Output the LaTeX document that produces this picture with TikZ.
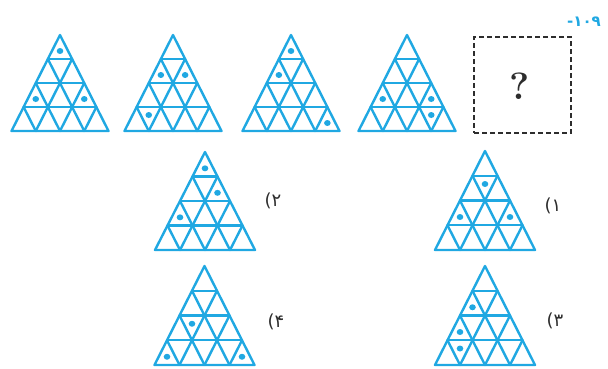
\documentclass[tikz,border=0pt]{standalone}
\usepackage{fontspec}
\newfontfamily\digitfont{DejaVu Sans}
\definecolor{triblue}{RGB}{32,168,226}
\definecolor{labgray}{RGB}{45,45,45}
\tikzset{
  tline/.style={draw=triblue, line width=2.4pt, line join=round, line cap=round},
  tdot/.style={fill=triblue},
  qbox/.style={draw=labgray, line width=1.1pt, dash pattern=on 5pt off 3pt},
  optlabel/.style={text=labgray, font=\digitfont\fontsize{18}{19}\selectfont, inner sep=0pt},
}
\newcommand\drawtri[5]{%
  \begin{scope}[shift={(#1,#2)}]
    \draw[tline] (0,0) -- (-#3/2,#4) -- (#3/2,#4) -- cycle;
    \foreach \k in {1,2,3}{
      \draw[tline] (-\k*#3/8,\k*#4/4) -- (\k*#3/8,\k*#4/4);
      \draw[tline] (-\k*#3/8,\k*#4/4) -- ({(4-2*\k)*#3/8},#4);
      \draw[tline] (\k*#3/8,\k*#4/4) -- ({-(4-2*\k)*#3/8},#4);
    }
    \foreach \r/\p in {#5}{
      \pgfmathsetmacro\dx{(\p-\r)*#3/8}
      \pgfmathsetmacro\dy{(\r-1)*#4/4 + ifthenelse(isodd(\p),2/3,1/3)*#4/4}
      \fill[tdot] (\dx,\dy) ellipse [x radius=3.3pt, y radius=3pt];
    }
  \end{scope}}
\begin{document}
\begin{tikzpicture}[x=1pt,y=-1pt]
\useasboundingbox (0,0) rectangle (608,368);
% top row
\drawtri{60}{35}{97}{96}{1/1,3/1,3/5}
\drawtri{173}{35}{97}{96}{2/1,2/3,4/2}
\drawtri{291}{35}{97}{96}{1/1,2/1,4/7}
\drawtri{407}{35}{97}{96}{3/1,3/5,4/6}
\node[qbox, minimum width=97pt, minimum height=96pt, inner sep=0pt] (qb) at (522.5,85) {};
\node[text=labgray, font=\fontsize{38}{40}\selectfont\bfseries, inner sep=0pt] (qm) at (520,86) {?};
\node[text=triblue, font=\digitfont\bfseries\fontsize{15}{16}\selectfont, inner sep=0pt] (num) at (584,22) {-۱۰۹};
% options
\drawtri{205}{152}{100}{98}{1/1,2/3,3/1}
\drawtri{485}{151}{100}{99}{2/2,3/1,3/5}
\drawtri{204.5}{266}{100}{99}{3/2,4/1,4/7}
\drawtri{485}{266}{100}{99}{2/1,3/1,4/2}
\node[optlabel] (o2) at (273,201) {(۲};
\node[optlabel] (o1) at (553,206) {(۱};
\node[optlabel] (o4) at (276,322) {(۴};
\node[optlabel] (o3) at (555,321) {(۳};
\end{tikzpicture}
\end{document}
